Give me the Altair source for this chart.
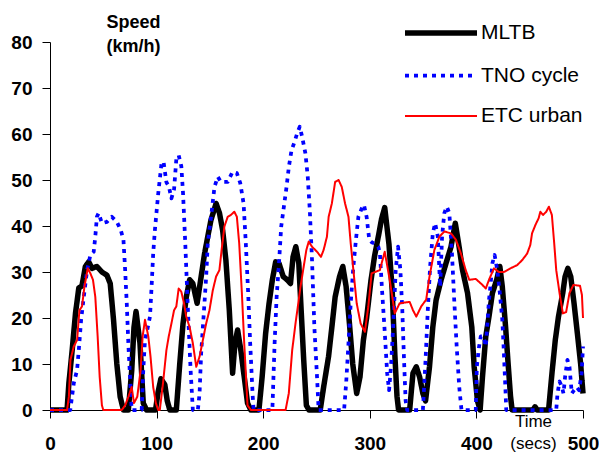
import altair as alt
import pandas as pd

# ---- data ----
mltb_t = [0, 16, 17.7, 20.8, 23.9, 27, 30, 33.2, 36.3, 39.4, 44, 48.7, 53.4, 56.5, 59.6, 62.7, 65.8, 68.9,
          73.5, 76.7, 78.8, 80.7, 84.4, 87.5, 90.6, 99, 101.5, 104, 107.7, 110, 112.4, 118.5, 121.7, 124.8,
          127.9, 131, 134, 138, 141.8, 145, 148, 151, 155.8, 159, 162, 165, 168.2, 171.3, 173.5, 176, 179,
          182.2, 185.3, 188.4, 196, 199, 202.3, 205.5, 208.6, 211.7, 214.8, 218.8, 222.5, 225.6, 228, 230.6,
          233.4, 235.6, 238, 240.5, 243, 253.5, 256.7, 261.3, 264.4, 267.5, 271.6, 274.7, 277.8, 280.9, 284,
          287.7, 290.8, 294, 297, 301, 304.5, 308, 311, 314, 318, 321, 323.5, 325.5, 327, 337.4, 340.5,
          343.6, 346.7, 349.8, 352.3, 356, 359.1, 362.2, 366.9, 371.5, 376.2, 380.2, 383.3, 387, 391.7,
          395.7, 397.9, 401, 403.5, 405.7, 408.8, 411.8, 415, 419, 422, 424.3, 427.4, 429.5, 432, 433.5,
          453, 455, 457, 467.7, 470.9, 474, 477, 481, 483.2, 485.8, 488.5, 491.6, 494.7, 497.8, 500]
mltb_v = [0, 0, 5.8, 13, 21, 26.5, 27, 31.2, 32.2, 30.8, 31.2, 30, 29.3, 27.5, 19.6, 10, 2.9, 0,
          0, 8.7, 18, 21.4, 14.5, 1.5, 0, 0, 4, 6.8, 5.5, 2, 0, 0, 10, 18.8,
          24.6, 28.3, 27.5, 23.2, 29, 34, 37.7, 41.3, 44.9, 42.8, 39, 32.6, 21.7, 8, 14.5, 17.4, 13,
          7.2, 1.5, 0, 0, 7.2, 16.7, 23.2, 28.3, 32.2, 31.9, 29, 28.3, 27.5, 33.3, 35.5,
          31.9, 21.7, 10.9, 1, 0, 0, 5, 11.6, 18, 24.6, 29, 31.2, 26.8, 18.8, 10,
          3.6, 7.2, 15.2, 20, 28, 33.5, 37.7, 41.5, 44, 36, 26, 12, 3, 0, 0, 8,
          9.4, 7.2, 3.6, 2, 9.4, 18, 23.9, 28.3, 31.9, 35.5, 40.6, 36.2, 30.4, 25.4,
          18, 9.4, 2, 0, 7.2, 16, 20.3, 25.4, 28.3, 31.2, 26.8, 18, 10.9, 3, 0,
          0, 0.7, 0, 0, 8, 15.2, 20.3, 25.4, 29, 30.8, 29, 23.2, 16.7, 10, 3.6]

tno_t = [0, 19, 22.3, 25.4, 27, 29.2, 31.7, 34.8, 37.9, 41, 42.5, 44, 45.6, 48.7, 53.4, 58, 62.7, 66.4,
         68.9, 70.5, 72, 73.6, 75.1, 76.6, 86, 87.5, 89.1, 91.2, 93.8, 95.3, 96.8, 98.4, 101.5, 104.6,
         106.5, 109.2, 111.5, 113.9, 116.4, 118.5, 120.7, 123.2, 124.8, 126.9, 129.4, 131.9, 134, 138.7,
         140.3, 141.8, 143.4, 144.9, 146.5, 148, 151.1, 154.3, 157.4, 160.4, 166.7, 171.3, 175.3, 178.5,
         181.6, 183.7, 185.9, 187.8, 190, 191, 208.6, 210.7, 212.6, 214.8, 216.9, 219.4, 221.9, 224.1,
         226.6, 229.4, 231.8, 234.3, 236.5, 239.6, 241.8, 243.7, 245.8, 248, 250.5, 252, 275.9, 277.8,
         280, 282.1, 284.6, 287, 289.3, 292.4, 294.5, 297, 299.5, 302, 305, 308, 309.5, 311.5, 314, 316.3,
         318.1, 320, 321.9, 324.3, 326.5, 328.7, 330.5, 332.1, 333.6, 335, 349.8, 352.3, 354.4, 356.6,
         359.1, 361.3, 363.8, 366, 367.8, 369.9, 372.2, 374.6, 377.1, 379.2, 381.5, 383.9, 386, 399.4,
         400.4, 402.5, 404.1, 406.6, 408.8, 410.3, 411.8, 413.4, 415, 417.1, 419.6, 422, 424.3, 425.8,
         427.4, 428, 474.9, 476.1, 478, 480.2, 481.7, 483.2, 485.4, 487.3, 489.5, 491.6, 494, 496.4,
         498.7, 500]
tno_v = [0, 0, 5.8, 8.7, 13, 19.6, 24.6, 30.4, 33.7, 34.4, 37.7, 42, 42.8, 40.6, 40.9, 42, 40.9, 39.1,
         37, 30.4, 23.2, 13.8, 7.2, 0, 0, 8.7, 15.2, 17.4, 20.3, 26.8, 34, 39.1, 47, 53.6,
         54, 49.5, 48.6, 46, 48, 54.5, 55.4, 53, 47.1, 36.2, 21.7, 8.7, 0, 0,
         3.6, 12.3, 18, 23.2, 29, 36.2, 42, 48.5, 50.7, 49.6, 49.6, 51.8, 51.5, 49.3,
         44.9, 36.2, 25.4, 14.5, 3.6, 0, 0, 14.5, 24.6, 31.9, 39.9, 44.2, 48.5, 52.9,
         56.5, 58.3, 60.1, 61.6, 59.4, 55.8, 50.7, 43.5, 32.6, 18, 7.2, 0, 0, 5.8,
         14.5, 23.2, 31.2, 37, 42, 43.8, 44.6, 42, 37, 36.4, 36.2, 35.5, 34, 26, 17, 8,
         4.3, 10, 18, 30.4, 35.5, 30.4, 21.7, 10.9, 2, 0, 0, 10.9, 21.7, 31.2,
         38.4, 40.6, 37.7, 26.8, 37.7, 42.8, 44.2, 42.8, 34, 23.9, 13.8, 5, 0, 0,
         9.4, 13.8, 16, 16, 13.8, 18.8, 23.9, 27.5, 31.9, 33.7, 30.4, 25.4, 19.6, 12.3,
         3.6, 0, 0, 3.6, 6.2, 5, 3.6, 7.2, 10.9, 9.4, 3.6, 4.3, 5, 4.3,
         8, 13.8]

etc_t = [0, 16, 17.7, 19.2, 22.3, 25.4, 27.6, 30, 32.3, 35.4, 37.9, 40.3, 42.5, 44.7, 46.6, 48.7, 50,
         67.3, 70.5, 73.6, 76.6, 78.8, 81.9, 85, 86.9, 89.1, 92.2, 94.3, 96.8, 99.3, 101.5, 103, 106,
         109.2, 111.4, 113.9, 116.4, 118.5, 120.7, 123.2, 125.7, 127.8, 131, 134, 137.2, 140.3, 143.4,
         146.5, 149.6, 152.7, 155.8, 158.9, 161, 163.6, 166.7, 169.7, 172.9, 175.3, 177.5, 180, 182.2,
         185.3, 188.4, 221, 224, 227.2, 230.3, 232.5, 235, 238, 240.5, 242.7, 245.8, 250.5, 254.2, 256.7,
         259.8, 261.4, 264.4, 267.5, 270.7, 273.7, 276.8, 280, 282.1, 284.6, 287.7, 291.4, 295.4, 298.6,
         301.7, 304.8, 309.4, 314, 318.7, 323.4, 328, 337.4, 340.5, 343.6, 348.2, 352.9, 356, 360.6,
         365.3, 370, 376.2, 380.8, 385.5, 390, 393.3, 399.4, 405.6, 408.8, 411.8, 416.5, 421.1, 425.8,
         432, 438.3, 443, 447.6, 450.6, 452.2, 455.3, 458.4, 460, 462.5, 465.5, 468, 470.8, 473, 474.9,
         478, 481.1, 484.2, 487.3, 491, 497.2, 499, 500]
etc_v = [0, 0, 2.9, 10.9, 13.8, 15.2, 21.7, 22.5, 26.8, 30.8, 29.7, 28.3, 24.6, 16, 7.2, 1, 0,
         0, 1, 2.9, 5, 1.5, 2.9, 8.7, 16, 19.6, 16, 11.6, 5, 1.5, 0, 0, 5.8,
         13, 16, 18.8, 21.7, 22.5, 26.4, 25.7, 23.2, 20.3, 18, 14.5, 9.4, 11.6, 15.2,
         18.8, 21.7, 26, 29, 30.4, 34.8, 39.9, 42, 42.4, 43.1, 42, 36.2, 25.4, 14.5,
         1, 0, 0, 3.6, 13, 18.8, 22.5, 26.8, 31.2, 34.8, 36.6, 35.5, 34.4, 33.3, 34.8,
         37.7, 42, 44.9, 49.6, 50, 48.5, 44.9, 42, 36.2, 30.4, 23.2, 18.8, 17, 22.5,
         29.7, 30, 30.4, 34.4, 28.3, 21, 23.2, 23.5, 21.7, 20.3, 22.5, 24, 29, 34.8,
         37.7, 38.8, 38.4, 37, 34, 30.4, 28.3, 28.5, 27.2, 26.4, 28.3, 30.8, 30, 30,
         30.8, 31.5, 32.6, 34, 35.9, 38.4, 40.2, 41.7, 43.1, 42.4, 43.1, 44.2, 42.4, 36.2, 30.4,
         25.4, 21, 21.3, 25.4, 27.2, 27, 25, 20]

series_names = ["MLTB", "TNO cycle", "ETC urban"]
series_colors = ["#000000", "#0000ff", "#ff0000"]
series_widths = [5.5, 2, 1.5]
series_dashes = [[1, 0], [4, 5], [1, 0]]

x_ticks = [0, 100, 200, 300, 400, 500]
y_ticks = [0, 10, 20, 30, 40, 50, 60, 70, 80]

rows = []
for name, ts, vs in zip(series_names, [mltb_t, tno_t, etc_t], [mltb_v, tno_v, etc_v]):
    for i, (t, v) in enumerate(zip(ts, vs)):
        rows.append({"series": name, "time": t, "speed": v, "idx": i})
df = pd.DataFrame(rows)

legend = alt.Legend(
    title=None, orient="none", legendX=376, legendY=-24, direction="vertical",
    symbolType="M-3,0H3", symbolSize=576, labelFontSize=21, labelFont="Liberation Sans",
    labelColor="black", rowPadding=17.5, labelOffset=25, padding=0,
)

chart = alt.Chart(df).mark_line(strokeCap="butt", strokeJoin="round").encode(
    x=alt.X("time:Q", scale=alt.Scale(domain=[0, 500], nice=False),
            axis=alt.Axis(values=x_ticks, labelFont="Liberation Sans", labelFontWeight="bold",
                          labelFontSize=19, labelColor="black", labelPadding=16, tickSize=8,
                          tickColor="black", domainColor="black", grid=False,
                          title=["Time", "(secs)"], titleFont="Liberation Sans",
                          titleFontWeight="normal", titleFontSize=17, titleColor="black",
                          titleX=483, titleY=16, titleAlign="center", titleBaseline="alphabetic",
                          titleLineHeight=22, labelFlush=False)),
    y=alt.Y("speed:Q", scale=alt.Scale(domain=[0, 80], nice=False),
            axis=alt.Axis(values=y_ticks, labelFont="Liberation Sans", labelFontWeight="bold",
                          labelFontSize=19, labelColor="black", labelPadding=10, tickSize=8,
                          tickColor="black", domainColor="black", grid=False,
                          title=["Speed", "(km/h)"], titleFont="Liberation Sans",
                          titleFontWeight="bold", titleFontSize=18, titleColor="black",
                          titleAngle=0, titleX=83, titleY=-15, titleAlign="center",
                          titleBaseline="alphabetic", titleLineHeight=24)),
    color=alt.Color("series:N", scale=alt.Scale(domain=series_names, range=series_colors), legend=legend),
    strokeWidth=alt.StrokeWidth("series:N", scale=alt.Scale(domain=series_names, range=series_widths), legend=legend),
    strokeDash=alt.StrokeDash("series:N", scale=alt.Scale(domain=series_names, range=series_dashes), legend=legend),
    order=alt.Order("idx:Q"),
).properties(
    width=533, height=368,
    autosize=alt.AutoSizeParams(type="none"),
    padding={"left": 42, "top": 34, "right": 16, "bottom": 42},
).configure_view(stroke=None)

chart.save("out.html", embed_options={"renderer": "svg", "actions": False})
